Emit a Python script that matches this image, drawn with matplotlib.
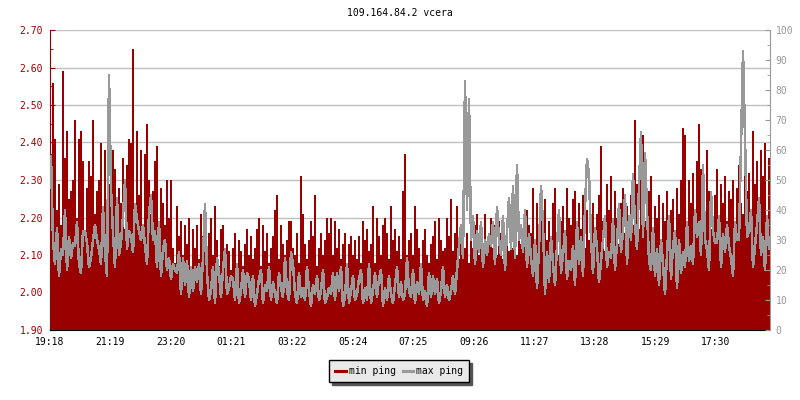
import numpy as np
import matplotlib
matplotlib.use('Agg')
import matplotlib.pyplot as plt
from matplotlib.lines import Line2D
from matplotlib.ticker import MultipleLocator, FormatStrFormatter

# písmo
plt.rcParams['font.family'] = ['DejaVu Sans Mono']
plt.rcParams['font.size'] = 7

title = '109.164.84.2 vcera'
start_time = '19:18'
step_min = 4  # jeden bod = 4 minuty

tick_labels = ['19:18', '21:19', '23:20', '01:21', '03:22', '05:24',
               '07:25', '09:26', '11:27', '13:28', '15:29', '17:30']

# min ping (levá osa)
min_ping = [
    2.37, 2.56, 2.41, 2.22, 2.29, 2.18, 2.59, 2.36, 2.43, 2.25, 2.27, 2.30, 2.46, 2.20, 2.41, 2.43, 2.35, 2.16, 2.28, 2.35,
    2.31, 2.46, 2.21, 2.27, 2.30, 2.40, 2.14, 2.38, 2.18, 2.29, 2.23, 2.38, 2.33, 2.12, 2.28, 2.24, 2.36, 2.17, 2.34, 2.41,
    2.40, 2.65, 2.19, 2.43, 2.26, 2.38, 2.15, 2.37, 2.45, 2.30, 2.21, 2.27, 2.35, 2.39, 2.13, 2.28, 2.24, 2.18, 2.30, 2.20,
    2.30, 2.12, 2.08, 2.23, 2.15, 2.19, 2.10, 2.18, 2.13, 2.20, 2.07, 2.17, 2.12, 2.18, 2.09, 2.21, 2.15, 2.19, 2.11, 2.16,
    2.20, 2.10, 2.23, 2.14, 2.07, 2.17, 2.18, 2.09, 2.13, 2.11, 2.06, 2.12, 2.16, 2.08, 2.14, 2.11, 2.07, 2.13, 2.17, 2.10,
    2.15, 2.09, 2.12, 2.17, 2.20, 2.07, 2.18, 2.11, 2.16, 2.08, 2.12, 2.15, 2.22, 2.26, 2.09, 2.18, 2.13, 2.10, 2.14, 2.19,
    2.19, 2.12, 2.10, 2.16, 2.08, 2.31, 2.21, 2.13, 2.09, 2.14, 2.19, 2.15, 2.26, 2.07, 2.12, 2.16, 2.10, 2.14, 2.20, 2.16,
    2.20, 2.10, 2.19, 2.12, 2.17, 2.09, 2.13, 2.16, 2.07, 2.13, 2.15, 2.10, 2.14, 2.09, 2.15, 2.08, 2.19, 2.14, 2.17, 2.11,
    2.13, 2.23, 2.08, 2.20, 2.15, 2.10, 2.18, 2.20, 2.16, 2.09, 2.23, 2.14, 2.17, 2.11, 2.15, 2.09, 2.27, 2.37, 2.10, 2.14,
    2.16, 2.10, 2.23, 2.17, 2.12, 2.07, 2.14, 2.17, 2.10, 2.08, 2.13, 2.15, 2.19, 2.09, 2.20, 2.14, 2.11, 2.12, 2.20, 2.15,
    2.25, 2.11, 2.16, 2.23, 2.09, 2.14, 2.10, 2.12, 2.16, 2.08, 2.20, 2.12, 2.18, 2.21, 2.10, 2.19, 2.13, 2.21, 2.11, 2.14,
    2.20, 2.12, 2.18, 2.10, 2.19, 2.16, 2.09, 2.14, 2.17, 2.11, 2.15, 2.12, 2.18, 2.10, 2.16, 2.13, 2.12, 2.14, 2.22, 2.18,
    2.16, 2.28, 2.13, 2.24, 2.15, 2.20, 2.11, 2.25, 2.14, 2.19, 2.12, 2.24, 2.28, 2.15, 2.10, 2.19, 2.23, 2.13, 2.28, 2.20,
    2.18, 2.25, 2.27, 2.14, 2.24, 2.17, 2.26, 2.12, 2.22, 2.14, 2.20, 2.24, 2.13, 2.21, 2.26, 2.39, 2.19, 2.11, 2.29, 2.22,
    2.31, 2.15, 2.27, 2.20, 2.13, 2.24, 2.28, 2.16, 2.23, 2.17, 2.26, 2.18, 2.46, 2.29, 2.17, 2.30, 2.42, 2.19, 2.21, 2.27,
    2.31, 2.16, 2.23, 2.20, 2.26, 2.14, 2.24, 2.19, 2.27, 2.17, 2.22, 2.25, 2.15, 2.28, 2.21, 2.30, 2.44, 2.42, 2.18, 2.30,
    2.24, 2.32, 2.19, 2.35, 2.45, 2.33, 2.20, 2.21, 2.38, 2.27, 2.17, 2.20, 2.26, 2.33, 2.18, 2.29, 2.24, 2.31, 2.19, 2.27,
    2.25, 2.30, 2.18, 2.28, 2.34, 2.24, 2.21, 2.40, 2.27, 2.32, 2.19, 2.43, 2.29, 2.35, 2.22, 2.38, 2.31, 2.40, 2.20, 2.36,
]

# max ping (pravá osa)
max_ping = [
    58, 30, 22, 34, 18, 27, 25, 40, 20, 31, 24, 29, 28, 36, 22, 19, 33, 33, 29, 21,
    24, 30, 35, 30, 27, 22, 41, 26, 18, 85, 47, 32, 21, 44, 25, 29, 38, 50, 27, 33,
    31, 26, 42, 37, 33, 30, 35, 28, 22, 39, 45, 30, 33, 21, 36, 18, 27, 30, 20, 24,
    17, 22, 20, 19, 26, 12, 24, 15, 23, 11, 21, 13, 21, 16, 22, 12, 24, 42, 19, 10,
    13, 21, 9, 24, 19, 11, 20, 27, 12, 14, 18, 17, 10, 22, 9, 13, 20, 11, 19, 17,
    10, 18, 8, 12, 17, 20, 9, 15, 13, 21, 10, 16, 12, 9, 19, 14, 11, 24, 13, 10,
    26, 22, 12, 9, 19, 11, 14, 10, 21, 13, 8, 15, 12, 18, 10, 13, 20, 9, 11, 14,
    12, 19, 10, 19, 13, 21, 8, 11, 22, 9, 13, 18, 10, 12, 17, 20, 9, 14, 10, 22,
    9, 13, 19, 11, 17, 20, 8, 14, 10, 18, 12, 9, 15, 21, 11, 16, 10, 12, 24, 13,
    11, 20, 9, 16, 12, 22, 10, 13, 8, 19, 11, 18, 12, 17, 9, 13, 21, 11, 15, 10,
    13, 18, 12, 20, 28, 35, 24, 83, 40, 77, 30, 38, 22, 33, 26, 36, 21, 30, 25, 32,
    28, 36, 22, 41, 30, 25, 38, 20, 33, 44, 27, 48, 24, 55, 30, 35, 26, 40, 21, 32,
    24, 18, 30, 14, 27, 48, 35, 12, 26, 16, 31, 22, 15, 28, 40, 19, 25, 33, 17, 23,
    20, 28, 15, 36, 22, 31, 18, 41, 57, 52, 30, 19, 34, 27, 16, 23, 30, 38, 21, 26,
    24, 37, 20, 29, 42, 26, 33, 45, 22, 38, 30, 52, 35, 27, 48, 66, 31, 59, 40, 23,
    20, 34, 18, 27, 15, 30, 22, 12, 25, 38, 17, 28, 33, 14, 30, 19, 26, 21, 36, 23,
    28, 22, 40, 31, 36, 25, 55, 30, 27, 20, 46, 33, 29, 29, 38, 21, 32, 26, 35, 28,
    24, 18, 36, 30, 30, 62, 93, 64, 31, 33, 40, 21, 28, 35, 44, 25, 31, 20, 38, 27,
]

RED = '#990000'
GREY = '#999999'


def minutes_from_start(s):
    h, m = map(int, s.split(':'))
    h0, m0 = map(int, start_time.split(':'))
    return ((h * 60 + m) - (h0 * 60 + m0)) % 1440


x = np.arange(len(min_ping)) * step_min
tick_pos = [minutes_from_start(t) for t in tick_labels]
xmax = len(min_ping) * step_min

fig = plt.figure(figsize=(8, 4), dpi=100)
pos = [0.0625, 0.175, 0.9, 0.75]

# levá osa: mřížka + červené sloupce (min ping)
ax = fig.add_axes(pos)
ax.bar(x, min_ping, width=step_min, align='edge', color=RED, linewidth=0, antialiased=False)
ax.set_xlim(0, xmax)
ax.set_ylim(1.9, 2.7)
ax.yaxis.set_major_locator(MultipleLocator(0.1))
ax.yaxis.set_minor_locator(MultipleLocator(0.05))
ax.yaxis.set_major_formatter(FormatStrFormatter('%.2f'))
ax.set_axisbelow(True)
ax.grid(axis='y', which='major', color='#c0c0c0', linewidth=1)
ax.tick_params(axis='y', which='both', direction='in', colors=RED, pad=5)
ax.tick_params(axis='y', which='major', length=3.6, labelsize=7)
ax.tick_params(axis='y', which='minor', length=2.2)
ax.set_xticks(tick_pos)
ax.set_xticklabels(tick_labels)
ax.tick_params(axis='x', direction='in', length=3.6, color='black', labelsize=7, pad=5)
ax.spines['top'].set_visible(False)
ax.spines['right'].set_visible(False)
ax.spines['left'].set_color(RED)
ax.spines['bottom'].set_color('black')

# pravá osa: šedá čára (max ping) přes sloupce
ax2 = ax.twinx()
ax2.plot(x + step_min / 2, max_ping, color=GREY, linewidth=1.1, antialiased=False)
ax2.set_ylim(0, 100)
ax2.yaxis.set_major_locator(MultipleLocator(10))
ax2.yaxis.set_minor_locator(MultipleLocator(5))
ax2.tick_params(axis='y', which='both', direction='in', colors=GREY, pad=4)
ax2.tick_params(axis='y', which='major', length=3.6, labelsize=7)
ax2.tick_params(axis='y', which='minor', length=2.2)
for k in ['left', 'top', 'bottom']:
    ax2.spines[k].set_visible(False)
ax2.spines['right'].set_color(GREY)

# titulek
fig.text(0.5, 1 - 13 / 400, title, ha='center', va='center', fontsize=7)

# legenda
handles = [Line2D([], [], color=RED, lw=2.2), Line2D([], [], color=GREY, lw=2.2)]
leg = fig.legend(handles, ['min ping', 'max ping'], loc='center', bbox_to_anchor=(0.499, 0.0725),
                 ncol=2, frameon=True, fancybox=False, shadow={'color': '#555555', 'alpha': 1},
                 edgecolor='black', facecolor='#e8e8e8', framealpha=1,
                 handlelength=1.1, handletextpad=0.3, columnspacing=0.7, borderpad=0.6, fontsize=7)
leg.get_frame().set_linewidth(1)

plt.savefig('out.png', dpi=100)
